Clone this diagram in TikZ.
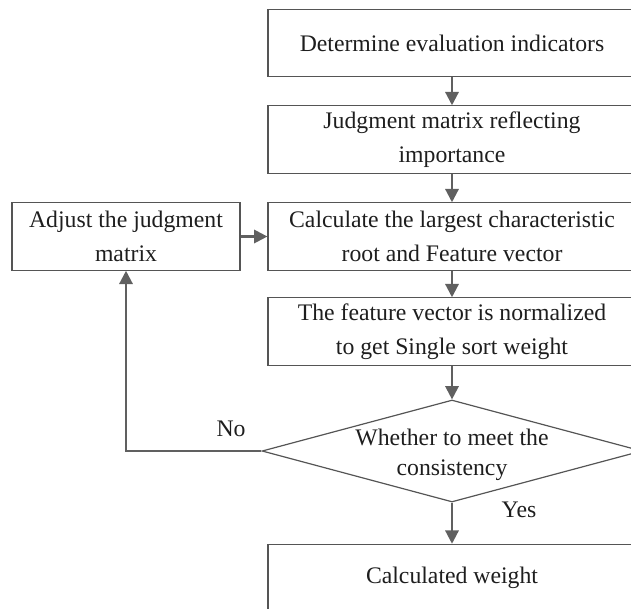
\documentclass[tikz,border=0pt]{standalone}
\usepackage{fontspec}
\setmainfont{Liberation Serif}
\usetikzlibrary{shapes.geometric,arrows.meta}
\definecolor{linegray}{RGB}{96,96,96}
\definecolor{boxgray}{RGB}{85,85,85}
\definecolor{textgray}{RGB}{30,30,30}

\begin{document}
\begin{tikzpicture}[x=0.75pt,y=-0.75pt,
    font=\fontsize{17.8}{25.5}\selectfont,
    process/.style={rectangle, draw=boxgray, line width=0.9pt, text=textgray,
      align=center, minimum width=276pt, minimum height=50.5pt, inner sep=0pt},
    decision/.style={diamond, draw=boxgray, line width=0.9pt, text=textgray,
      font=\fontsize{17.8}{22.5}\selectfont, text height=41pt,
      align=center, aspect=3.7, minimum width=285pt, minimum height=76.5pt,
      inner xsep=0pt, inner ysep=-9pt},
    tag/.style={text=textgray, inner sep=0pt},
    flow/.style={draw=linegray, line width=1.7pt, -{Triangle[length=10pt,width=10pt]}}
    ]
\useasboundingbox (0,0) rectangle (631,608);
\clip (0,0) rectangle (631,608);
\node[process] (ind) at (452,43) {Determine evaluation indicators};
\node[process] (jud) at (452,139.5) {Judgment matrix reflecting\\importance};
\node[process] (calc) at (452,236.5) {Calculate the largest characteristic\\root and Feature vector};
\node[process, minimum width=171pt] (adj) at (126,236.5) {Adjust the judgment\\matrix};
\node[process] (norm) at (452,331.5) {The feature vector is normalized\\to get Single sort weight};
\node[decision] (cons) at (452,451) {Whether to meet the\\consistency};
\node[process] (wt) at (452,578) {Calculated weight};
\node[tag] (no) at (231,429) {No};
\node[tag] (yes) at (519,510) {Yes};
\draw[flow] (ind) -- (jud);
\draw[flow] (jud) -- (calc);
\draw[flow] (adj) -- (calc);
\draw[flow] (calc) -- (norm);
\draw[flow] (norm) -- (cons);
\draw[flow] (cons) -- (wt);
\draw[flow] (cons.west) -- (adj.south |- cons.west) -- (adj.south);
\end{tikzpicture}
\end{document}
